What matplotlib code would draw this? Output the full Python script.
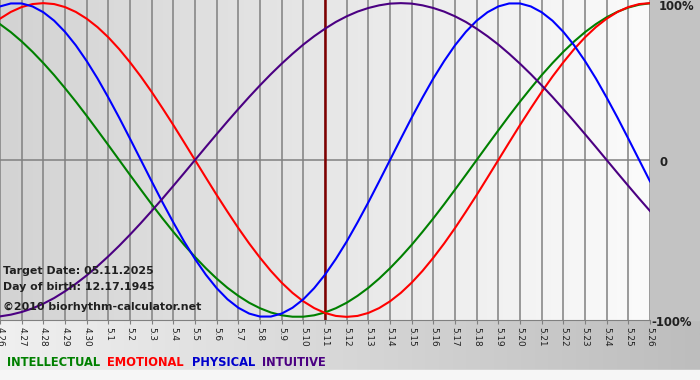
import numpy as np
import matplotlib
matplotlib.use('Agg')
import matplotlib.pyplot as plt
from matplotlib.colors import LinearSegmentedColormap

# Day labels under the grid lines
days = ['4.26', '4.27', '4.28', '4.29', '4.30', '5.1', '5.2', '5.3', '5.4', '5.5',
        '5.6', '5.7', '5.8', '5.9', '5.10', '5.11', '5.12', '5.13', '5.14', '5.15',
        '5.16', '5.17', '5.18', '5.19', '5.20', '5.21', '5.22', '5.23', '5.24', '5.25',
        '5.26']
target_day = '5.11'

# Values every half day (-1 .. 1), from 4.26 to 5.26
physical = [0.979, 0.998, 0.998, 0.979, 0.942, 0.888, 0.817, 0.731, 0.631, 0.520,
            0.398, 0.270, 0.136, 0.000, -0.136, -0.270, -0.398, -0.520, -0.631, -0.731,
            -0.817, -0.888, -0.942, -0.979, -0.998, -0.998, -0.979, -0.942, -0.888, -0.817,
            -0.731, -0.631, -0.520, -0.398, -0.270, -0.136, 0.000, 0.136, 0.270, 0.398,
            0.520, 0.631, 0.731, 0.817, 0.888, 0.942, 0.979, 0.998, 0.998, 0.979,
            0.942, 0.888, 0.817, 0.731, 0.631, 0.520, 0.398, 0.270, 0.136, 0.000,
            -0.136]
emotional = [0.901, 0.944, 0.975, 0.994, 1.000, 0.994, 0.975, 0.944, 0.901, 0.847,
             0.782, 0.707, 0.623, 0.532, 0.434, 0.330, 0.223, 0.112, 0.000, -0.112,
             -0.223, -0.330, -0.434, -0.532, -0.623, -0.707, -0.782, -0.847, -0.901, -0.944,
             -0.975, -0.994, -1.000, -0.994, -0.975, -0.944, -0.901, -0.847, -0.782, -0.707,
             -0.623, -0.532, -0.434, -0.330, -0.223, -0.112, 0.000, 0.112, 0.223, 0.330,
             0.434, 0.532, 0.623, 0.707, 0.782, 0.847, 0.901, 0.944, 0.975, 0.994,
             1.000]
intellectual = [0.866, 0.815, 0.756, 0.690, 0.618, 0.541, 0.458, 0.372, 0.282, 0.189,
                0.095, 0.000, -0.095, -0.189, -0.282, -0.372, -0.458, -0.541, -0.618, -0.690,
                -0.756, -0.815, -0.866, -0.910, -0.945, -0.972, -0.990, -0.999, -0.999, -0.990,
                -0.972, -0.945, -0.910, -0.866, -0.815, -0.756, -0.690, -0.618, -0.541, -0.458,
                -0.372, -0.282, -0.189, -0.095, 0.000, 0.095, 0.189, 0.282, 0.372, 0.458,
                0.541, 0.618, 0.690, 0.756, 0.815, 0.866, 0.910, 0.945, 0.972, 0.990,
                0.999]
intuitive = [-0.997, -0.986, -0.969, -0.946, -0.916, -0.880, -0.837, -0.789, -0.736, -0.677,
             -0.614, -0.547, -0.476, -0.402, -0.325, -0.246, -0.165, -0.083, 0.000, 0.083,
             0.165, 0.246, 0.325, 0.402, 0.476, 0.547, 0.614, 0.677, 0.736, 0.789,
             0.837, 0.880, 0.916, 0.946, 0.969, 0.986, 0.997, 1.000, 0.997, 0.986,
             0.969, 0.946, 0.916, 0.880, 0.837, 0.789, 0.736, 0.677, 0.614, 0.547,
             0.476, 0.402, 0.325, 0.246, 0.165, 0.083, 0.000, -0.083, -0.165, -0.246,
             -0.325]

y_labels = ['100%', '0', '-100%']

GREEN = '#008000'
RED = '#ff0000'
BLUE = '#0000ff'
PURPLE = '#4b0082'

W, H = 700, 380
fig = plt.figure(figsize=(7, 3.8), dpi=100)

# Figure background: light on the left, gray on the right
grad = np.linspace(0, 1, 256).reshape(1, -1)
bg = fig.add_axes([0, 0, 1, 1], zorder=-10)
bg.imshow(grad, aspect='auto', extent=[0, 1, 0, 1],
          cmap=LinearSegmentedColormap.from_list('bg', ['#f0f0f0', '#bdbdbd']))
bg.axhspan(0, 10 / H, color='#f6f6f6')
bg.set_xlim(0, 1)
bg.set_ylim(0, 1)
bg.axis('off')

# Gray panel right of the plot
fig.patches.append(plt.Rectangle((650 / W, 60 / H), 50 / W, 320 / H,
                                 transform=fig.transFigure, color='#c3c3c3', zorder=-5))

ax = fig.add_axes([0, 60 / H, 650 / W, 320 / H])
x = np.arange(len(days))
x_half = np.linspace(0, len(days) - 1, len(physical))
ax.set_xlim(0, len(days) - 1)
ax.set_ylim(-1.02, 1.02)

# Plot area gradient: gray on the left, almost white on the right
ax.imshow(grad, aspect='auto', extent=[0, len(days) - 1, -1.02, 1.02], zorder=0,
          cmap=LinearSegmentedColormap.from_list('pa', ['#d3d3d3', '#fbfbfb']))

# Day grid and zero line
for xi in x:
    ax.axvline(xi, color='#808080', lw=1.1, zorder=1)
ax.axhline(0, color='#808080', lw=1.1, zorder=1)

# Target day marker
ax.axvline(days.index(target_day), color='#800000', lw=1.8, zorder=2)

ax.plot(x_half, intellectual, color=GREEN, lw=1.5, zorder=3)
ax.plot(x_half, emotional, color=RED, lw=1.5, zorder=3)
ax.plot(x_half, physical, color=BLUE, lw=1.5, zorder=3)
ax.plot(x_half, intuitive, color=PURPLE, lw=1.5, zorder=3)

for s in ['top', 'right', 'left']:
    ax.spines[s].set_visible(False)
ax.spines['bottom'].set_color('#808080')
ax.set_yticks([])
ax.set_xticks(x)
ax.set_xticklabels(days, rotation=270, fontsize=6.4, color='#202020')
ax.tick_params(axis='x', length=3, color='#808080', pad=2)

# Percentage labels right of the plot
for lab, xp, yp in zip(y_labels, [659, 659, 651], [7, 162, 323]):
    fig.text(xp / W, 1 - yp / H, lab, fontsize=8.4, fontweight='bold',
             color='#202020', va='center', ha='left')

# Info text in the lower left
info = ['Target Date: 05.11.2025', 'Day of birth: 12.17.1945', '\u00a92010 biorhythm-calculator.net']
for line, yp in zip(info, [271, 287, 307]):
    fig.text(3 / W, 1 - yp / H, line, fontsize=7.9, fontweight='bold',
             color='#202020', va='center', ha='left')

# Colored legend words at the bottom
legend_words = ['INTELLECTUAL', 'EMOTIONAL', 'PHYSICAL', 'INTUITIVE']
legend_colors = [GREEN, RED, '#0000cc', PURPLE]
legend_x = [7, 107, 192, 262]
for word, col, xp in zip(legend_words, legend_colors, legend_x):
    fig.text(xp / W, 1 - 362 / H, word, fontsize=9.2, fontweight='bold',
             fontstretch='condensed', color=col, va='center', ha='left')

plt.savefig('out.png', dpi=100)
plt.close()
